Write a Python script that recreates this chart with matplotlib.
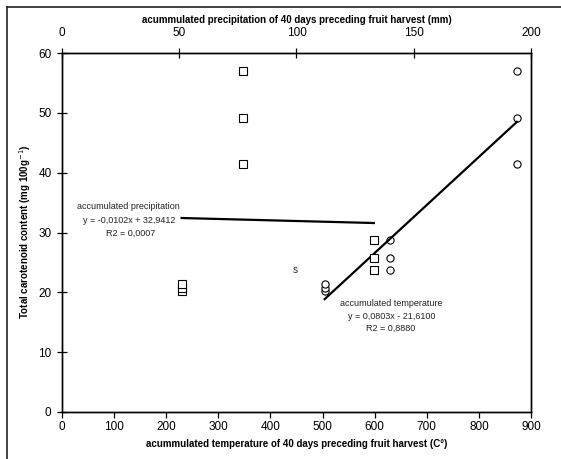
import matplotlib
matplotlib.use("Agg")
import matplotlib.pyplot as plt
from matplotlib.lines import Line2D
import numpy as np

plt.rcParams['font.family'] = ['Liberation Sans', 'DejaVu Sans']

# Total carotenoid content (mg 100 g-1) of the nine samples
carotenoid = [20.2, 20.7, 21.4, 41.5, 49.2, 57.0, 23.7, 25.8, 28.8]
# Accumulated precipitation (mm) and temperature (C) for the same samples
precipitation = [51, 51, 51, 77, 77, 77, 133, 133, 133]
temperature = [504, 504, 504, 873, 873, 873, 629, 629, 629]

# Linear fits as reported
prec_slope, prec_icpt = -0.0102, 32.9412
temp_slope, temp_icpt = 0.0803, -21.6100

temp_ticks = [0, 100, 200, 300, 400, 500, 600, 700, 800, 900]
prec_ticks = [0, 50, 100, 150, 200]
y_ticks = [0, 10, 20, 30, 40, 50, 60]

W, H = 561, 459
fig = plt.figure(figsize=(W / 100, H / 100), dpi=100)
fig.patch.set_facecolor('white')

def fx(px):
    return px / W

def fy(py):
    return 1 - py / H

ax = fig.add_axes([fx(62), fy(412), fx(531) - fx(62), fy(53) - fy(412)])
ax.set_xlim(0, 900)
ax.set_ylim(0, 60)
ax.set_xticks(temp_ticks)
ax.set_yticks(y_ticks)
ax.tick_params(axis='x', direction='out', length=4, width=0.9, pad=2.5, labelsize=8.5)
ax.tick_params(axis='y', direction='inout', length=7, width=0.9, pad=4, labelsize=8.5)
for s in ax.spines.values():
    s.set_color('black')
    s.set_linewidth(1.0)

ax2 = ax.twiny()
ax2.set_xlim(0, 200)
ax2.set_xticks(prec_ticks)
ax2.tick_params(axis='x', direction='inout', length=7, width=0.9, pad=6.5, labelsize=8.5)
for s in ax2.spines.values():
    s.set_color('black')
    s.set_linewidth(1.0)

# Temperature data (circles) and fit
ax.plot(temperature, carotenoid, linestyle='none', marker='o', markersize=5.2,
        markerfacecolor='white', markeredgecolor='black', markeredgewidth=0.8, zorder=3)
tx = np.array([min(temperature), max(temperature)])
ax.plot(tx, temp_slope * tx + temp_icpt, color='black', lw=1.6, zorder=4)

# Precipitation data (squares) and fit
ax2.plot(precipitation, carotenoid, linestyle='none', marker='s', markersize=5.2,
         markerfacecolor='white', markeredgecolor='black', markeredgewidth=0.8, zorder=3)
px_ = np.array([min(precipitation), max(precipitation)])
ax2.plot(px_, prec_slope * px_ + prec_icpt, color='black', lw=1.6, zorder=4)

# Fit annotations
tk = dict(fontsize=6.5, ha='center', va='center', color='#222222')
ax.text(127, 34.4, 'accumulated precipitation', **tk)
ax.text(129, 32.0, 'y = -0,0102x + 32,9412', **tk)
ax.text(131, 29.9, 'R2 = 0,0007', **tk)
ax.text(631, 18.2, 'accumulated temperature', **tk)
ax.text(632, 16.0, 'y = 0,0803x - 21,6100', **tk)
ax.text(631, 14.0, 'R2 = 0,8880', **tk)
ax.text(448, 23.7, 's', fontsize=7, ha='center', va='center', color='#222222')

# Axis titles
fig.text(fx(297), fy(20), 'acummulated precipitation of 40 days preceding fruit harvest (mm)',
         fontsize=7, fontweight='bold', ha='center', va='center')
fig.text(fx(297), fy(444), 'acummulated temperature of 40 days preceding fruit harvest (C°)',
         fontsize=7, fontweight='bold', ha='center', va='center')
fig.text(fx(25), fy(232), 'Total carotenoid content (mg 100g$^{-1}$)',
         fontsize=7, fontweight='bold', ha='center', va='center', rotation=90)

# Outer frame
fig.add_artist(Line2D([fx(7), fx(7)], [fy(7), fy(H + 5)], color='#222222', lw=1.2,
                      transform=fig.transFigure))
fig.add_artist(Line2D([fx(7), fx(W + 5)], [fy(7), fy(7)], color='#222222', lw=1.2,
                      transform=fig.transFigure))

fig.savefig('out.png', dpi=100)
